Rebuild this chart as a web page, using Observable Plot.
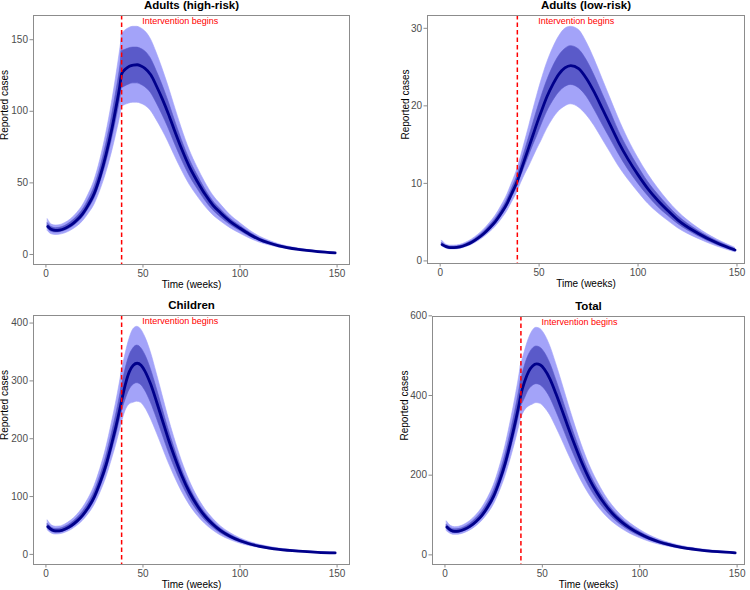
<!DOCTYPE html>
<html>
<head>
<meta charset="utf-8">
<script src="https://cdn.jsdelivr.net/npm/d3@7"></script>
<script src="https://cdn.jsdelivr.net/npm/@observablehq/plot@0.6"></script>
<style>
  body { margin: 0; background: #fff; font-family: "Liberation Sans", Arial, sans-serif; }
  #grid { position: relative; width: 750px; height: 590px; background: #fff; }
  #grid svg { position: absolute; }
</style>
</head>
<body>
<div id="grid"></div>
<script>
// Weeks before the intervention (ending at week 39) and after it (starting at week 39)
const preWeeks  = [1, 3, 5, 7, 10, 13, 16, 19, 22, 25, 28, 31, 34, 36, 38, 39];
const postWeeks = [39, 41, 43, 45, 47, 49, 51, 54, 57, 60, 63, 66, 70, 74, 78, 82, 86, 90, 95, 100, 105, 110, 115, 120, 130, 140, 149];
const interventionWeek = 39;
const annotationWeek = 49.6;

// Adults (high-risk): median and 50% / 95% intervals, pre then post
const highMed  = [19.6, 17.4, 16.8, 17.0, 18.3, 20.6, 24.0, 28.5, 35.0, 43.0, 55.0, 70.0, 88.0, 102, 117, 126,
                  126, 129.5, 131.5, 132.3, 132.5, 131.6, 130, 125.5, 117.5, 108.5, 98.5, 87.5, 73.5, 61, 51, 42, 34.5, 29, 23, 18.3, 14, 10.5, 8, 6, 3.5, 2, 1.1];
const highLo95 = [16.3, 14.1, 13.6, 13.8, 14.8, 16.7, 19.4, 23.1, 28.4, 34.8, 44.6, 56.7, 71.3, 82.6, 94.8, 102,
                  103, 104.5, 105.5, 106, 106, 105.3, 104, 100.4, 94, 86.8, 78.8, 70, 58.8, 48.8, 40.8, 33.6, 27.6, 23.2, 18.4, 14.6, 11.2, 8.4, 6.4, 4.8, 2.8, 1.6, 0.9];
const highLo50 = [18.0, 15.8, 15.3, 15.5, 16.7, 18.7, 21.8, 25.9, 31.9, 39.1, 50.1, 63.7, 80.1, 92.8, 106.5, 114.7,
                  116, 117.5, 118.8, 119.5, 119.5, 118.6, 117, 113, 105.8, 97.6, 88.7, 78.8, 66.2, 55, 46, 37.8, 31, 26, 20.7, 16.5, 12.6, 9.5, 7.2, 5.4, 3.2, 1.8, 1.0];
const highHi50 = [21.8, 19.1, 18.4, 18.6, 20.0, 22.6, 26.3, 31.2, 38.3, 47.1, 60.2, 76.7, 96.4, 111.7, 128.1, 138,
                  142, 143, 144, 144.5, 144.5, 143.6, 142, 137, 128.3, 118.5, 107.5, 95.5, 80, 66.5, 55.6, 45.8, 37.6, 31.6, 25, 20, 15.3, 11.4, 8.7, 6.5, 3.8, 2.2, 1.2];
const highHi95 = [24.5, 20.9, 20.2, 20.4, 22.0, 24.7, 28.8, 34.2, 42.0, 51.6, 66.0, 84.0, 105.6, 122.4, 140.4, 150,
                  154, 156.5, 158.2, 159, 159, 158, 156, 150.5, 141, 130, 118, 105, 88, 73, 61, 50.5, 41.5, 35, 27.5, 22, 16.8, 12.6, 9.6, 7.2, 4.2, 2.4, 1.3];

// Adults (low-risk)
const lowMed  = [2.1, 1.85, 1.72, 1.72, 1.8, 2.05, 2.4, 2.9, 3.5, 4.25, 5.1, 6.2, 7.5, 8.6, 9.7, 10.3,
                 10.3, 11.8, 13.3, 14.8, 16.3, 17.8, 19.2, 21.2, 22.8, 24.1, 24.9, 25.2, 24.8, 23.5, 21.7, 19.6, 17.5, 15.4, 13.1, 11.1, 9.3, 7.8, 6.5, 5.3, 3.6, 2.3, 1.4];
const lowLo95 = [1.85, 1.6, 1.48, 1.48, 1.55, 1.77, 2.07, 2.5, 3.02, 3.66, 4.4, 5.35, 6.46, 7.42, 8.36, 8.9,
                 8.9, 10.1, 11.2, 12.2, 13.3, 14.4, 15.4, 17.0, 18.3, 19.3, 19.9, 20.2, 19.8, 18.8, 17.4, 15.7, 14.0, 12.3, 10.5, 8.9, 7.4, 6.2, 5.2, 4.25, 2.9, 1.85, 1.12];
const lowLo50 = [1.97, 1.73, 1.61, 1.61, 1.68, 1.92, 2.25, 2.72, 3.28, 3.98, 4.78, 5.8, 7.02, 8.05, 9.07, 9.65,
                 9.65, 11.0, 12.3, 13.6, 14.9, 16.1, 17.4, 19.2, 20.6, 21.7, 22.4, 22.7, 22.3, 21.2, 19.5, 17.6, 15.75, 13.9, 11.8, 10.0, 8.4, 7.0, 5.85, 4.8, 3.25, 2.05, 1.25];
const lowHi50 = [2.3, 1.97, 1.83, 1.83, 1.92, 2.18, 2.56, 3.09, 3.73, 4.53, 5.43, 6.6, 7.98, 9.15, 10.33, 10.95,
                 10.95, 12.6, 14.3, 16.0, 17.7, 19.4, 21.0, 23.2, 25.0, 26.4, 27.3, 27.7, 27.3, 25.9, 23.9, 21.6, 19.3, 16.9, 14.4, 12.2, 10.2, 8.6, 7.15, 5.85, 3.95, 2.55, 1.55];
const lowHi95 = [2.6, 2.12, 1.97, 1.97, 2.06, 2.34, 2.75, 3.32, 4.0, 4.86, 5.82, 7.1, 8.58, 9.84, 11.1, 11.8,
                 11.8, 13.6, 15.5, 17.4, 19.4, 21.3, 23.1, 25.5, 27.4, 28.9, 29.9, 30.2, 29.8, 28.2, 26.0, 23.5, 21.0, 18.5, 15.7, 13.3, 11.2, 9.4, 7.8, 6.4, 4.3, 2.75, 1.7];

// Children
const childMed  = [48, 42.5, 40.5, 40.8, 44, 49.5, 57.5, 68, 82, 100, 125, 155, 193, 220, 250, 266,
                   266, 295, 316, 327, 330.5, 327, 317, 294, 264, 232, 200, 171, 136, 107, 84, 66, 52, 41, 31, 23.5, 18, 14, 11, 8.6, 5.5, 3.6, 2.6];
const childLo95 = [41.5, 36.1, 34.4, 34.7, 37.4, 42.1, 48.9, 57.8, 69.7, 85, 106.3, 131.8, 164, 187, 212.5, 226,
                   226, 248, 259, 262, 264, 262, 254, 235, 211, 185.6, 160, 136.8, 108.8, 85.6, 67.2, 52.8, 41.6, 32.8, 24.8, 18.8, 14.4, 11.2, 8.8, 6.9, 4.4, 2.9, 2.1];
const childLo50 = [44.8, 39.3, 37.5, 37.7, 40.7, 45.8, 53.2, 62.9, 75.9, 92.5, 115.6, 143.4, 178.5, 203.5, 231.3, 246,
                   246, 267, 284, 293, 296, 293, 284, 263, 236.5, 208, 179, 153, 122, 96, 75.3, 59.1, 46.6, 36.7, 27.8, 21, 16.1, 12.5, 9.9, 7.7, 4.9, 3.2, 2.3];
const childHi50 = [52.5, 46.1, 43.9, 44.3, 47.7, 53.7, 62.4, 73.8, 89, 108.5, 135.6, 168.2, 209.4, 238.7, 271.3, 288.6,
                   288.6, 320, 343, 356, 361, 357, 346, 321, 288, 253, 218, 186.5, 148, 116.6, 91.6, 72, 56.7, 44.7, 33.8, 25.6, 19.6, 15.3, 12, 9.4, 6, 3.9, 2.8];
const childHi95 = [58.5, 50.2, 47.8, 48.1, 51.9, 58.4, 67.9, 80.2, 96.8, 118, 147.5, 183, 227.7, 259.6, 295, 314,
                   314, 346, 372, 389, 393.5, 389, 377, 350, 314, 276, 238, 203.5, 162, 127.5, 100, 78.5, 62, 48.8, 36.9, 28, 21.4, 16.7, 13.1, 10.2, 6.5, 4.3, 3.1];

// Total
const totalMed  = [69.7, 61.8, 59.0, 59.5, 64.1, 72.2, 83.9, 99.4, 120.5, 147.3, 185, 231, 288.5, 330.6, 376.7, 402.3,
                   402.3, 436.3, 460.8, 474.1, 479.3, 476.4, 466.2, 440.7, 404.3, 364.6, 323.4, 283.7, 234.3, 191.5, 156.7, 127.6, 104, 85.4, 67.1, 52.9, 41.3, 32.3, 25.5, 19.9, 12.6, 7.9, 5.1];
const totalLo95 = [59.2, 52.5, 50.2, 50.6, 54.5, 61.4, 71.3, 84.5, 102.4, 125.2, 157.3, 196.4, 245.2, 281, 320.2, 342,
                   342, 362, 372, 377, 381, 379, 370.6, 350.4, 321.4, 289.9, 257.1, 225.5, 186.3, 152.2, 124.6, 101.4, 82.7, 67.9, 53.3, 42.1, 32.8, 25.7, 20.3, 15.8, 10, 6.3, 4.1];
const totalLo50 = [64.5, 57.2, 54.6, 55, 59.3, 66.8, 77.6, 91.9, 111.5, 136.3, 171.1, 213.7, 266.9, 305.8, 348.4, 372.1,
                   372.1, 392, 413, 424, 428.5, 426, 417, 394.4, 361.8, 326.3, 289.4, 253.9, 209.7, 171.4, 140.2, 114.2, 93.1, 76.4, 60.1, 47.3, 37, 28.9, 22.8, 17.8, 11.3, 7.1, 4.6];
const totalHi50 = [75.6, 67.1, 64, 64.6, 69.5, 78.3, 91, 107.8, 130.7, 159.8, 200.7, 250.6, 313, 358.7, 408.7, 436.5,
                   436.5, 474, 501, 517, 523, 520, 509, 481, 441, 397.4, 352.5, 309.2, 255.4, 208.7, 170.8, 139.1, 113.4, 93.1, 73.1, 57.7, 45, 35.2, 27.8, 21.7, 13.7, 8.6, 5.6];
const totalHi95 = [83.6, 72.9, 69.6, 70.2, 75.6, 85.2, 99, 117.3, 142.2, 173.8, 218.3, 272.6, 340.4, 390.1, 444.5, 474.7,
                   474.7, 510, 541, 562, 570, 567, 555, 524.4, 481, 434, 385, 337.6, 278.8, 227.9, 186.5, 151.8, 123.8, 101.6, 79.8, 63, 49.1, 38.4, 30.3, 23.7, 15, 9.4, 6.1];

// Panel titles and tick values
const titles = ["Adults (high-risk)", "Adults (low-risk)", "Children", "Total"];
const xTicks = [0, 50, 100, 150];
const yTicksHigh = [0, 50, 100, 150];
const yTicksLow = [0, 10, 20, 30];
const yTicksChild = [0, 100, 200, 300, 400];
const yTicksTotal = [0, 200, 400, 600];

const outerFill = "#a3a3f9";
const innerFill = "#5a5ac9";
const lineColor = "#00008b";
const font = "'Liberation Sans', Arial, Helvetica, sans-serif";

const weeks = preWeeks.concat(postWeeks);

function makeRows(med, lo95, lo50, hi50, hi95) {
  return weeks.map((w, i) => ({
    week: w,
    phase: i < preWeeks.length ? "pre" : "post",
    med: med[i], lo95: lo95[i], lo50: lo50[i], hi50: hi50[i], hi95: hi95[i]
  }));
}

const panels = [
  {title: titles[0], rows: makeRows(highMed, highLo95, highLo50, highHi50, highHi95), yTicks: yTicksHigh,
   left: 0, top: 0, m: {l: 33, r: 26, t: 15, b: 31}, xDomain: [-6.4, 156.4], yTitleDx: -28.5},
  {title: titles[1], rows: makeRows(lowMed, lowLo95, lowLo50, lowHi50, lowHi95), yTicks: yTicksLow,
   left: 375, top: 0, m: {l: 52, r: 6, t: 15, b: 32}, xDomain: [-6.4, 153.8], yTitleDx: -22},
  {title: titles[2], rows: makeRows(childMed, childLo95, childLo50, childHi50, childHi95), yTicks: yTicksChild,
   left: 0, top: 295, m: {l: 33, r: 26, t: 20, b: 26}, xDomain: [-6.4, 156.4], yTitleDx: -29},
  {title: titles[3], rows: makeRows(totalMed, totalLo95, totalLo50, totalHi50, totalHi95), yTicks: yTicksTotal,
   left: 375, top: 295, m: {l: 57, r: 6, t: 21, b: 26}, xDomain: [-6.4, 153.8], yTitleDx: -27.5}
];

const grid = document.getElementById("grid");

for (const p of panels) {
  const rows = p.rows;
  const lo = d3.min(rows, d => d.lo95);
  const hi = d3.max(rows, d => d.hi95);
  const pad = (hi - lo) * 0.05;
  // the median is one continuous path; the repeated week-39 row is left out of it
  const lineRows = rows.filter((d, i) => i !== preWeeks.length);

  const chart = Plot.plot({
    width: 375,
    height: 295,
    marginLeft: p.m.l,
    marginRight: p.m.r,
    marginTop: p.m.t,
    marginBottom: p.m.b,
    style: {fontFamily: font, background: "#fff", overflow: "visible"},
    x: {domain: p.xDomain},
    y: {domain: [lo - pad, hi + pad]},
    marks: [
      Plot.areaY(rows, {x: "week", y1: "lo95", y2: "hi95", z: "phase", fill: outerFill, stroke: outerFill, strokeWidth: 0.6, curve: "monotone-x"}),
      Plot.areaY(rows, {x: "week", y1: "lo50", y2: "hi50", z: "phase", fill: innerFill, stroke: innerFill, strokeWidth: 0.6, curve: "monotone-x"}),
      Plot.line(lineRows, {x: "week", y: "med", stroke: lineColor, strokeWidth: 2.8, curve: "monotone-x"}),
      Plot.ruleX([interventionWeek], {stroke: "#ff0000", strokeWidth: 1.5, strokeDasharray: "4.5,3"}),
      Plot.text([{w: annotationWeek, label: "Intervention begins"}], {
        x: "w", text: "label", frameAnchor: "top", dy: 6, textAnchor: "start", lineAnchor: "middle",
        fill: "#ff0000", fontSize: 9
      }),
      Plot.frame({stroke: "#8c8c8c", strokeWidth: 1}),
      Plot.axisX({ticks: xTicks, tickSize: 3.5, tickPadding: 1.5, fontSize: 10, stroke: "#8c8c8c", fill: "#4d4d4d", label: null}),
      Plot.axisY({ticks: p.yTicks, tickSize: 3.5, tickPadding: 2, fontSize: 10, stroke: "#8c8c8c", fill: "#4d4d4d", label: null}),
      Plot.text([p.title], {text: d => d, frameAnchor: "top", dy: -10, lineAnchor: "middle", fontSize: 11.5, fontWeight: "bold", fill: "#000"}),
      Plot.text(["Time (weeks)"], {text: d => d, frameAnchor: "bottom", dy: 20, lineAnchor: "middle", fontSize: 10, fill: "#000"}),
      Plot.text(["Reported cases"], {text: d => d, frameAnchor: "left", dx: p.yTitleDx, rotate: -90, lineAnchor: "middle", fontSize: 10, fill: "#000"})
    ]
  });
  chart.style.left = p.left + "px";
  chart.style.top = p.top + "px";
  grid.appendChild(chart);
}
</script>
</body>
</html>
